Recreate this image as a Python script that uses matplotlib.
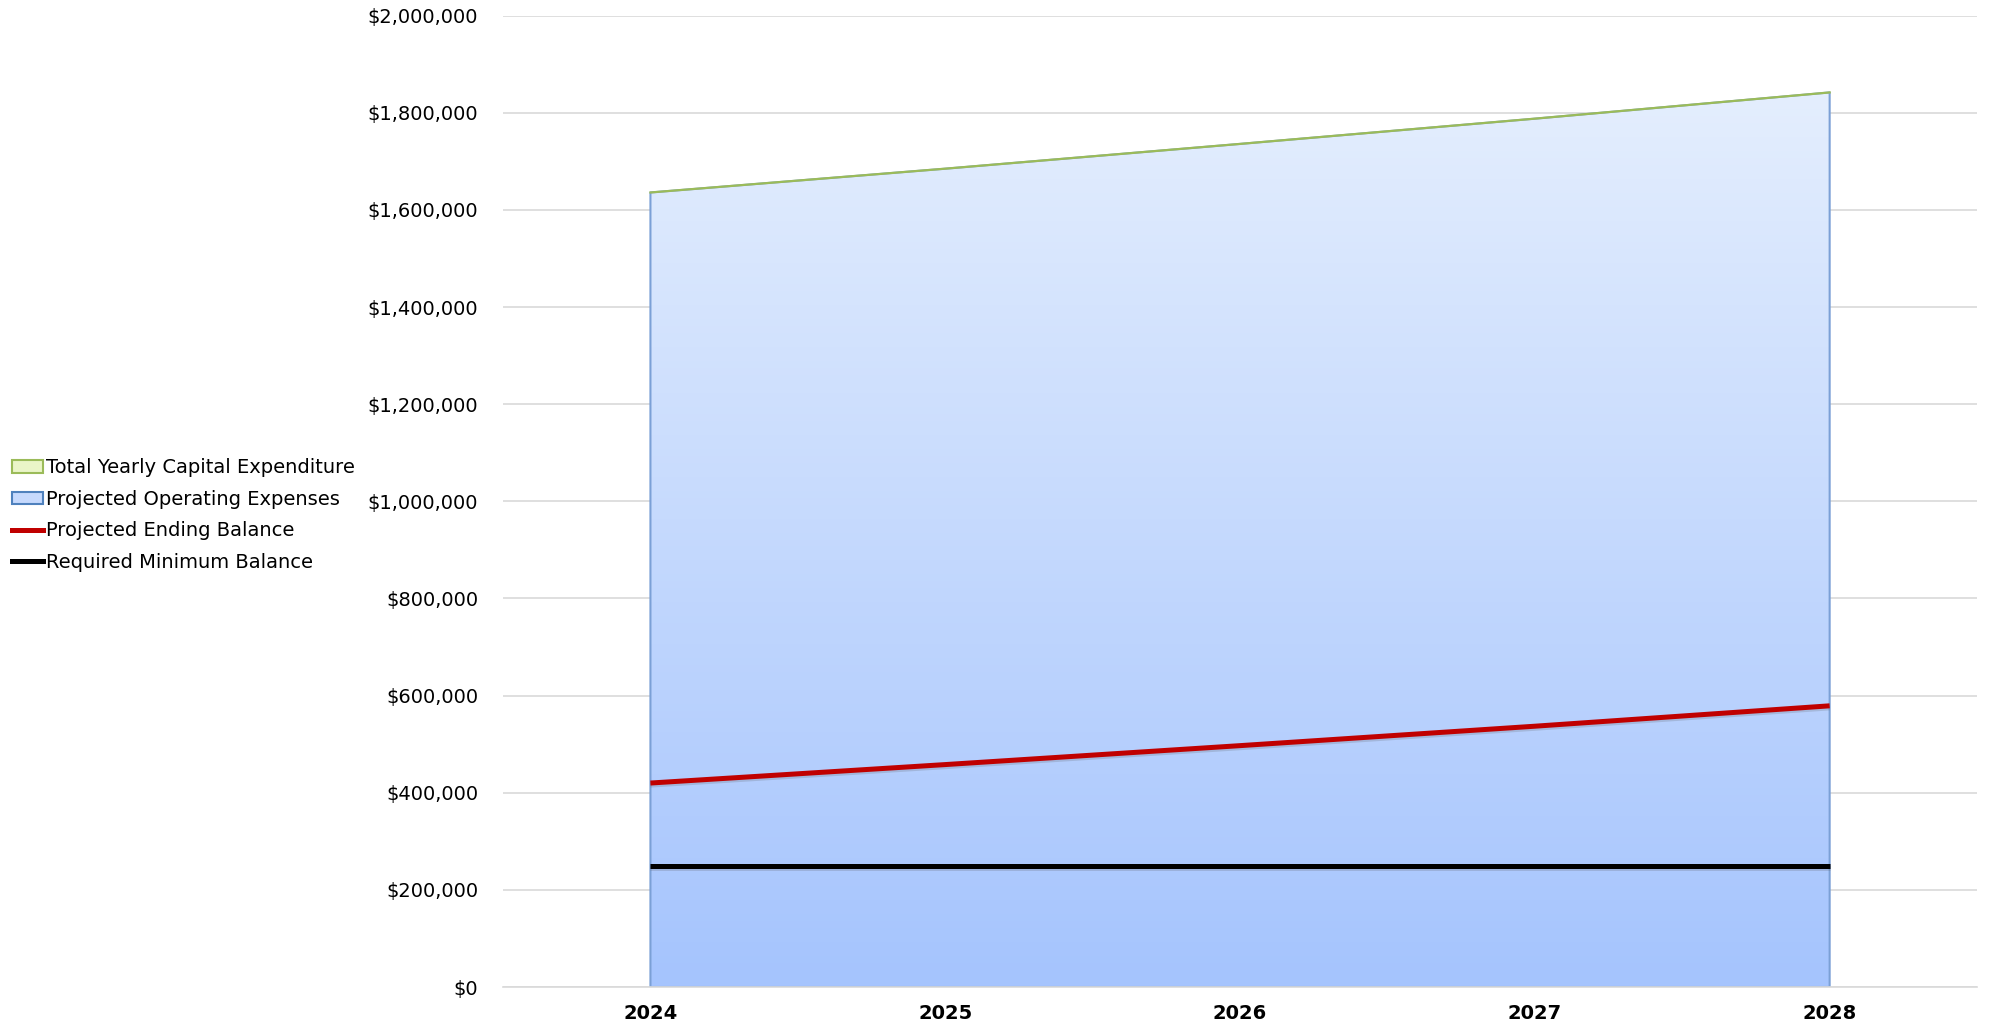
import numpy as np
import matplotlib
matplotlib.use("Agg")
import matplotlib.pyplot as plt
import matplotlib.patches as mpatches
import matplotlib.patheffects as pe
from matplotlib.lines import Line2D
from matplotlib.ticker import FuncFormatter

years = ["2024", "2025", "2026", "2027", "2028"]
operating_expenses = [1636000, 1685000, 1736000, 1788000, 1842000]
capital_expenditure = [0, 0, 0, 0, 0]
ending_balance = [420000, 458000, 497000, 537000, 579000]
minimum_balance = [250000, 250000, 250000, 250000, 250000]

plt.rcParams["font.family"] = ["DejaVu Sans"]

fig = plt.figure(figsize=(19.93, 10.26), dpi=100)
ax = fig.add_axes([0.2524, 0.038, 0.7396, 0.9467])

x = np.arange(len(years))
ops = np.array(operating_expenses)
total = ops + np.array(capital_expenditure)

# blue gradient fill for operating expenses
poly = ax.fill_between(x, 0, ops, facecolor="none", edgecolor="#7BA0D6", linewidth=1.5, zorder=2)
grad = np.linspace(0, 1, 256).reshape(-1, 1)
cmap = matplotlib.colors.LinearSegmentedColormap.from_list("opx", ["#A5C4FE", "#E4EEFD"])
img = ax.imshow(grad, cmap=cmap, origin="lower", aspect="auto",
                extent=(x[0], x[-1], 0, total.max()), zorder=1)
img.set_clip_path(poly.get_paths()[0], transform=ax.transData)

# capital expenditure stacked on top
ax.fill_between(x, ops, total, facecolor="#EAF5C8", edgecolor="none", zorder=2)
ax.plot(x, total, color="#9BBB59", linewidth=1.6, zorder=3)

shadow = [pe.SimpleLineShadow(offset=(0, -1.5), shadow_color="#555555", alpha=0.2), pe.Normal()]
ax.plot(x, ending_balance, color="#C00000", linewidth=3.6, zorder=4, path_effects=shadow,
        solid_capstyle="butt")
ax.plot(x, minimum_balance, color="#000000", linewidth=3.6, zorder=4, path_effects=shadow,
        solid_capstyle="butt")

ax.set_xlim(-0.5, len(years) - 0.5)
ax.set_ylim(0, 2000000)
ax.set_yticks(np.arange(0, 2000001, 200000))
ax.yaxis.set_major_formatter(FuncFormatter(lambda v, p: "${:,.0f}".format(v)))
ax.set_xticks(x)
ax.set_xticklabels(years, fontweight="bold")
ax.tick_params(axis="y", length=0, pad=18, labelsize=14)
ax.tick_params(axis="x", length=0, pad=12, labelsize=14)
ax.grid(axis="y", color="#D9D9D9", linewidth=1.2, zorder=0)
ax.set_axisbelow(True)
for s in ["top", "right", "left"]:
    ax.spines[s].set_visible(False)
ax.spines["bottom"].set_color("#D9D9D9")
ax.spines["bottom"].set_linewidth(1.2)

handles = [
    mpatches.Patch(facecolor="#EAF5C8", edgecolor="#9BBB59", linewidth=1.5),
    mpatches.Patch(facecolor="#C6D9FD", edgecolor="#4F81BD", linewidth=1.5),
    Line2D([], [], color="#C00000", linewidth=3.6),
    Line2D([], [], color="#000000", linewidth=3.6),
]
labels = ["Total Yearly Capital Expenditure", "Projected Operating Expenses",
          "Projected Ending Balance", "Required Minimum Balance"]
fig.legend(handles, labels, loc="center left", bbox_to_anchor=(12 / 1993, 0.498),
           frameon=False, fontsize=14, handlelength=1.6, handleheight=0.6,
           handletextpad=0.16, labelspacing=0.64, borderpad=0, borderaxespad=0)

fig.savefig("out.png", dpi=100)
